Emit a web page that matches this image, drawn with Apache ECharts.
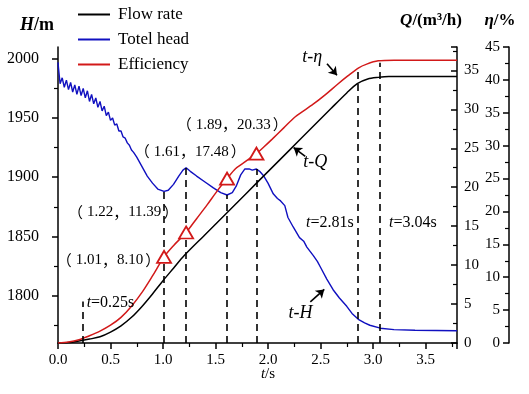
<!DOCTYPE html>
<html>
<head>
<meta charset="utf-8">
<script src="https://cdn.jsdelivr.net/npm/echarts@6/dist/echarts.min.js"></script>
<style>
html,body{margin:0;padding:0;background:#fff}
#main{width:529px;height:394px}
</style>
</head>
<body>
<div id="main"></div>
<script>
// flow rate Q (m3/h) vs t
const tFlow = [0,0.1,0.2,0.3,0.4,0.5,0.6,0.7,0.8,0.9,1.0,1.1,1.2,1.4,1.6,1.8,2.0,2.2,2.4,2.6,2.75,2.85,2.95,3.05,3.15,3.8]
const flowQ = [0,0.05,0.25,0.5,0.8,1.4,2.2,3.3,4.7,6.3,8.0,9.6,11.2,13.9,16.6,19.3,22.0,24.7,27.4,30.1,32.1,33.3,33.9,34.1,34.2,34.2]

// total head H (m) vs t
const tHead = [0,0.005,0.02,0.04,0.06,0.08,0.10,0.12,0.14,0.16,0.18,0.20,0.22,0.24,0.26,0.28,0.30,0.32,0.34,0.36,0.38,0.40,0.42,0.44,0.46,0.48,0.50,0.52,0.54,0.56,0.58,0.60,0.62,0.64,0.66,0.68,0.70,0.72,0.75,0.80,0.85,0.90,0.95,1.01,1.05,1.10,1.15,1.19,1.22,1.26,1.32,1.40,1.48,1.55,1.61,1.66,1.70,1.74,1.78,1.82,1.85,1.89,1.92,1.96,2.00,2.05,2.09,2.12,2.16,2.19,2.24,2.30,2.34,2.37,2.43,2.47,2.50,2.56,2.62,2.68,2.75,2.80,2.86,2.92,2.97,3.07,3.20,3.40,3.80]
const headH = [1997,1992,1979,1984,1976,1982,1974,1980,1972,1978,1970,1977,1969,1975,1967,1973,1964,1970,1962,1967,1959,1964,1956,1960,1952,1955,1948,1950,1944,1945,1939,1939,1934,1933,1929,1927,1923,1921,1917,1909,1901,1895,1890,1888,1889,1894,1901,1906,1908,1905,1901,1896,1891,1887,1885,1887,1893,1902,1907,1907,1906,1907,1905,1901,1895,1886,1882,1880,1876,1866,1858,1849,1846,1841,1834,1829,1824,1814,1805,1798,1791,1785,1780,1777,1775,1772.5,1771.3,1770.8,1770.4]

// efficiency (%) vs t
const tEff = [0,0.1,0.2,0.3,0.4,0.5,0.6,0.7,0.8,0.9,1.01,1.1,1.22,1.32,1.42,1.52,1.61,1.69,1.76,1.82,1.89,1.96,2.04,2.15,2.26,2.43,2.55,2.66,2.76,2.86,2.94,3.05,3.2,3.8]
const effVals = [0,0.15,0.5,1.1,1.8,2.7,3.9,5.6,7.7,10.2,13.1,14.8,16.8,18.9,21.0,23.2,25.0,26.5,27.3,28.0,28.8,29.8,31.0,32.7,34.4,36.3,37.8,39.3,40.6,41.8,42.4,42.9,43.0,43.0]

// marked points (t, Q) with triangles on the efficiency curve
const markTimes = [1.01,1.22,1.61,1.89]
const markFlow = [8.10,11.39,17.48,20.33]
const markEff = [13.1,16.8,25.0,28.8]

// dashed guide lines: time and head value where they stop
const dashTimes = [0.24,1.01,1.22,1.61,1.89,2.85,3.06]
const dashTops = [1795,1888,1908,1885,1907,1993,1996.6]
const timeLabels = ['0.25','2.81','3.04']

// axis ticks
const hTicks = [1800,1850,1900,1950,2000]
const hMinor = [1775,1825,1875,1925,1975]

const serif = '"Liberation Serif", "Times New Roman", serif'
const cjk = '"Noto Sans CJK SC", sans-serif'

// annotation anchors in (t, H)
const pointLabelPos = [[0.48,1830.2],[0.62,1870.8],[1.26,1921.5],[1.66,1944.3]]
const timeLabelPos = [[0.50,1794],[2.59,1861.5],[3.38,1861.5]]
const curveLabelPos = [[2.42,2001.7],[2.45,1913],[2.31,1785.5]]
const curveNames = ['η','Q','H']
// arrows in (t, Q): tail t, tail Q, head t, head Q
const arrows = [[2.562,35.86,2.657,34.36],[2.355,23.97,2.244,25.09],[2.403,5.29,2.536,6.88]]

const axisBase = {
    axisLine: {show: true, lineStyle: {color: '#000', width: 1.5}},
    axisTick: {show: true, length: 6, lineStyle: {color: '#000', width: 1.5}},
    splitLine: {show: false},
    axisLabel: {color: '#000', fontFamily: serif, fontSize: 15}
}

const textLabels = []
markTimes.forEach((t, i) => {
    textLabels.push({
        coord: pointLabelPos[i],
        label: {formatter: '{l|（}' + t.toFixed(2) + '{p|，}' + markFlow[i].toFixed(2) + '{r|）}'}
    })
})
timeLabels.forEach((s, i) => {
    textLabels.push({coord: timeLabelPos[i], label: {formatter: '{i|t}{n|=' + s + 's}'}})
})
curveNames.forEach((s, i) => {
    textLabels.push({coord: curveLabelPos[i], label: {formatter: '{c|t-' + s + '}'}})
})

const option = {
    animation: false,
    backgroundColor: '#fff',
    grid: {left: 58, right: 72, top: 47, bottom: 51, outerBoundsMode: 'none'},
    legend: {
        orient: 'vertical',
        left: 78,
        top: 6,
        padding: 0,
        icon: 'rect',
        itemWidth: 32,
        itemHeight: 2,
        itemGap: 8,
        selectedMode: false,
        textStyle: {fontFamily: serif, fontSize: 17, color: '#000', padding: [0, 0, 0, 3]},
        data: ['Flow rate', 'Totel head', 'Efficiency']
    },
    xAxis: Object.assign({}, axisBase, {
        type: 'value', min: 0, max: 3.8, interval: 0.5,
        minorTick: {show: true, splitNumber: 2, length: 4, lineStyle: {color: '#000', width: 1.2}},
        axisLabel: Object.assign({}, axisBase.axisLabel, {
            margin: 10,
            formatter: v => Math.abs(v * 2 - Math.round(v * 2)) < 1e-6 ? v.toFixed(1) : ''
        })
    }),
    yAxis: [
        Object.assign({}, axisBase, {
            type: 'value', position: 'left', min: 1760, max: 2010,
            axisTick: {show: true, length: 6, customValues: hTicks, lineStyle: {color: '#000', width: 1.5}},
            axisLabel: Object.assign({}, axisBase.axisLabel, {
                customValues: hTicks, margin: 19, fontSize: 16, formatter: v => String(v)
            })
        }),
        Object.assign({}, axisBase, {
            type: 'value', position: 'right', offset: 0, min: 0, max: 38, interval: 5,
            axisTick: {show: true, inside: true, length: 6, lineStyle: {color: '#000', width: 1.5}},
            minorTick: {show: true, splitNumber: 2, length: 4, lineStyle: {color: '#000', width: 1.2}},
            axisLabel: Object.assign({}, axisBase.axisLabel, {
                margin: 7,
                formatter: v => v % 5 === 0 ? v : ''
            })
        }),
        Object.assign({}, axisBase, {
            type: 'value', position: 'right', offset: 52, min: 0, max: 45, interval: 5,
            axisTick: {show: true, inside: true, length: 6, lineStyle: {color: '#000', width: 1.5}},
            minorTick: {show: true, splitNumber: 2, length: 4, lineStyle: {color: '#000', width: 1.2}},
            axisLabel: Object.assign({}, axisBase.axisLabel, {inside: true, margin: 9})
        }),
        {
            // minor ticks of the head axis
            type: 'value', position: 'left', min: 1760, max: 2010,
            axisLine: {show: false},
            axisLabel: {show: false},
            splitLine: {show: false},
            axisTick: {show: true, length: 4, customValues: hMinor, lineStyle: {color: '#000', width: 1.2}}
        }
    ],
    graphic: [
        {type: 'text', silent: true, style: {
            x: 37, y: 25, text: '{a|H}{b|/m}', align: 'center', verticalAlign: 'middle',
            textAlign: 'center', textVerticalAlign: 'middle',
            rich: {
                a: {fontFamily: serif, fontSize: 18, fontWeight: 'bold', fontStyle: 'italic', fill: '#000'},
                b: {fontFamily: serif, fontSize: 18, fontWeight: 'bold', fill: '#000'}
            }
        }},
        {type: 'text', silent: true, style: {
            x: 431, y: 21, text: '{a|Q}{b|/(m³/h)}', align: 'center', verticalAlign: 'middle',
            textAlign: 'center', textVerticalAlign: 'middle',
            rich: {
                a: {fontFamily: serif, fontSize: 17, fontWeight: 'bold', fontStyle: 'italic', fill: '#000'},
                b: {fontFamily: serif, fontSize: 17, fontWeight: 'bold', fill: '#000'}
            }
        }},
        {type: 'text', silent: true, style: {
            x: 500, y: 21, text: '{a|η}{b|/%}', align: 'center', verticalAlign: 'middle',
            textAlign: 'center', textVerticalAlign: 'middle',
            rich: {
                a: {fontFamily: serif, fontSize: 17, fontWeight: 'bold', fontStyle: 'italic', fill: '#000'},
                b: {fontFamily: serif, fontSize: 17, fontWeight: 'bold', fill: '#000'}
            }
        }},
        {type: 'text', silent: true, style: {
            x: 268, y: 374, text: '{a|t}{b|/s}', align: 'center', verticalAlign: 'middle',
            textAlign: 'center', textVerticalAlign: 'middle',
            rich: {
                a: {fontFamily: serif, fontSize: 15, fontStyle: 'italic', fill: '#000'},
                b: {fontFamily: serif, fontSize: 15, fill: '#000'}
            }
        }}
    ],
    series: [
        {
            name: 'Flow rate',
            type: 'line',
            yAxisIndex: 1,
            data: tFlow.map((t, i) => [t, flowQ[i]]),
            symbol: 'none',
            smooth: 0.3,
            z: 3,
            lineStyle: {color: '#000', width: 1.5},
            itemStyle: {color: '#000'},
            markLine: {
                silent: true,
                symbol: ['none', 'arrow'],
                symbolSize: 8,
                label: {show: false},
                emphasis: {disabled: true},
                lineStyle: {color: '#000', type: 'solid', width: 1.6},
                data: arrows.map(a => [{coord: [a[0], a[1]]}, {coord: [a[2], a[3]]}])
            }
        },
        {
            name: 'Totel head',
            type: 'line',
            yAxisIndex: 0,
            data: tHead.map((t, i) => [t, headH[i]]),
            symbol: 'none',
            z: 2,
            lineStyle: {color: '#1010c0', width: 1.4},
            itemStyle: {color: '#1010c0'},
            markLine: {
                silent: true,
                symbol: ['none', 'none'],
                label: {show: false},
                emphasis: {disabled: true},
                lineStyle: {color: '#000', type: [7, 5], width: 1.6},
                data: dashTimes.map((t, i) => [{coord: [t, 1760]}, {coord: [t, dashTops[i]]}])
            },
            markPoint: {
                silent: true,
                symbol: 'circle',
                symbolSize: 1,
                itemStyle: {color: 'rgba(0,0,0,0)'},
                label: {
                    show: true,
                    position: 'inside',
                    color: '#000',
                    fontFamily: serif,
                    fontSize: 15,
                    rich: {
                        l: {fontFamily: cjk, fontSize: 15, color: '#000', padding: [0, 4, 0, 0]},
                        p: {fontFamily: cjk, fontSize: 15, color: '#000'},
                        r: {fontFamily: cjk, fontSize: 15, color: '#000', padding: [0, 0, 0, 2]},
                        i: {fontFamily: serif, fontSize: 16, fontStyle: 'italic', color: '#000'},
                        n: {fontFamily: serif, fontSize: 16, color: '#000'},
                        c: {fontFamily: serif, fontSize: 18, fontStyle: 'italic', color: '#000'}
                    }
                },
                data: textLabels
            }
        },
        {
            name: 'Efficiency',
            type: 'line',
            yAxisIndex: 2,
            data: tEff.map((t, i) => [t, effVals[i]]),
            symbol: 'none',
            smooth: 0.3,
            z: 4,
            lineStyle: {color: '#d21919', width: 1.5},
            itemStyle: {color: '#d21919'},
            markPoint: {
                silent: true,
                symbol: 'triangle',
                symbolSize: [14, 12],
                itemStyle: {color: '#fff', borderColor: '#d21919', borderWidth: 1.8},
                label: {show: false},
                data: markTimes.map((t, i) => ({coord: [t, markEff[i]]}))
            }
        }
    ]
}

const chart = echarts.init(document.getElementById('main'))
chart.setOption(option)
</script>
</body>
</html>
